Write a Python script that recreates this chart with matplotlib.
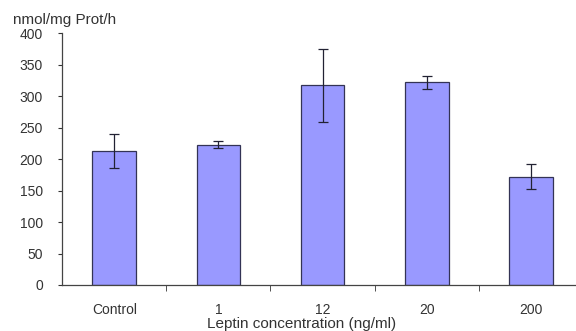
import numpy as np
import matplotlib.pyplot as plt

# values
categories = ["Control", "1", "12", "20", "200"]
means = [212, 223, 317, 322, 172]
errors = [27, 6, 58, 10, 20]
yticks = [0, 50, 100, 150, 200, 250, 300, 350, 400]

plt.rcParams['font.family'] = ['Liberation Sans', 'DejaVu Sans']

fig = plt.figure(figsize=(5.76, 3.31), dpi=100)
ax = fig.add_axes([0.108, 0.139, 0.904, 0.761])

x = np.arange(len(categories))
ax.bar(x, means, width=0.42, color="#9999ff", edgecolor="#333355", linewidth=0.9,
       yerr=errors, capsize=3.5, error_kw=dict(ecolor="#222233", elinewidth=0.9, capthick=0.9))

ax.set_xlim(-0.5, 4.5)
ax.set_ylim(0, 400)
ax.set_yticks(yticks)
ax.set_xticks(x)
ax.set_xticklabels(categories, fontsize=10, color="#333333")
ax.set_xticks(x[:-1] + 0.5, minor=True)
ax.tick_params(axis="x", which="major", length=0, pad=13)
ax.tick_params(axis="x", which="minor", length=4, direction="out", color="#333333")
ax.tick_params(axis="y", length=3, direction="out", pad=11, labelsize=10,
               labelcolor="#333333", color="#333333")

for s in ["top", "right"]:
    ax.spines[s].set_visible(False)
for s in ["left", "bottom"]:
    ax.spines[s].set_color("#444444")
    ax.spines[s].set_linewidth(0.9)

fig.text(302 / 576, 1 - 324 / 331, "Leptin concentration (ng/ml)", fontsize=11,
         color="#333333", ha="center", va="center")
fig.text(13 / 576, 1 - 20 / 331, "nmol/mg Prot/h", fontsize=11, color="#333333", va="center")

fig.savefig("out.png", dpi=100)
